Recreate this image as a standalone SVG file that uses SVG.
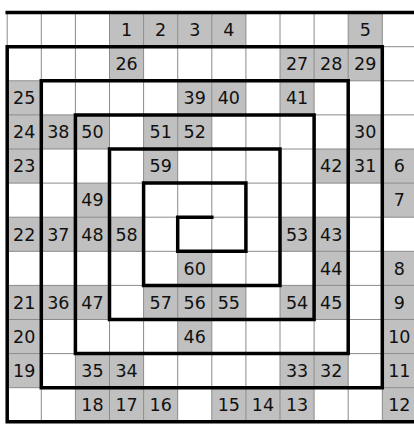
<svg xmlns="http://www.w3.org/2000/svg" width="414" height="425" viewBox="0 0 414 425">
<style>
.cell rect{fill:#c0c0c0;}
.cell text{font-family:"DejaVu Sans","Verdana",sans-serif;font-size:17.5px;fill:#111;text-anchor:middle;}
.grid{stroke:#8a8a8a;stroke-width:1;fill:none;}
.spiral{stroke:#000;stroke-width:3.5;fill:none;stroke-linejoin:miter;stroke-linecap:square;}
</style>
<rect x="0" y="0" width="414" height="425" fill="#fff"/>
<g id="cells" transform="translate(0 0.3)">
<g id="n1" class="cell"><rect x="109.5" y="12.3" width="34.1" height="34.1"/><text x="126.55" y="35.65">1</text></g>
<g id="n2" class="cell"><rect x="143.6" y="12.3" width="34.1" height="34.1"/><text x="160.65" y="35.65">2</text></g>
<g id="n3" class="cell"><rect x="177.7" y="12.3" width="34.1" height="34.1"/><text x="194.75" y="35.65">3</text></g>
<g id="n4" class="cell"><rect x="211.8" y="12.3" width="34.1" height="34.1"/><text x="228.85" y="35.65">4</text></g>
<g id="n5" class="cell"><rect x="348.2" y="12.3" width="34.1" height="34.1"/><text x="365.25" y="35.65">5</text></g>
<g id="n26" class="cell"><rect x="109.5" y="46.4" width="34.1" height="34.1"/><text x="126.55" y="69.75">26</text></g>
<g id="n27" class="cell"><rect x="280" y="46.4" width="34.1" height="34.1"/><text x="297.05" y="69.75">27</text></g>
<g id="n28" class="cell"><rect x="314.1" y="46.4" width="34.1" height="34.1"/><text x="331.15" y="69.75">28</text></g>
<g id="n29" class="cell"><rect x="348.2" y="46.4" width="34.1" height="34.1"/><text x="365.25" y="69.75">29</text></g>
<g id="n25" class="cell"><rect x="7.2" y="80.5" width="34.1" height="34.1"/><text x="24.25" y="103.85">25</text></g>
<g id="n39" class="cell"><rect x="177.7" y="80.5" width="34.1" height="34.1"/><text x="194.75" y="103.85">39</text></g>
<g id="n40" class="cell"><rect x="211.8" y="80.5" width="34.1" height="34.1"/><text x="228.85" y="103.85">40</text></g>
<g id="n41" class="cell"><rect x="280" y="80.5" width="34.1" height="34.1"/><text x="297.05" y="103.85">41</text></g>
<g id="n24" class="cell"><rect x="7.2" y="114.6" width="34.1" height="34.1"/><text x="24.25" y="137.95">24</text></g>
<g id="n38" class="cell"><rect x="41.3" y="114.6" width="34.1" height="34.1"/><text x="58.35" y="137.95">38</text></g>
<g id="n50" class="cell"><rect x="75.4" y="114.6" width="34.1" height="34.1"/><text x="92.45" y="137.95">50</text></g>
<g id="n51" class="cell"><rect x="143.6" y="114.6" width="34.1" height="34.1"/><text x="160.65" y="137.95">51</text></g>
<g id="n52" class="cell"><rect x="177.7" y="114.6" width="34.1" height="34.1"/><text x="194.75" y="137.95">52</text></g>
<g id="n30" class="cell"><rect x="348.2" y="114.6" width="34.1" height="34.1"/><text x="365.25" y="137.95">30</text></g>
<g id="n23" class="cell"><rect x="7.2" y="148.7" width="34.1" height="34.1"/><text x="24.25" y="172.05">23</text></g>
<g id="n59" class="cell"><rect x="143.6" y="148.7" width="34.1" height="34.1"/><text x="160.65" y="172.05">59</text></g>
<g id="n42" class="cell"><rect x="314.1" y="148.7" width="34.1" height="34.1"/><text x="331.15" y="172.05">42</text></g>
<g id="n31" class="cell"><rect x="348.2" y="148.7" width="34.1" height="34.1"/><text x="365.25" y="172.05">31</text></g>
<g id="n6" class="cell"><rect x="382.3" y="148.7" width="34.1" height="34.1"/><text x="399.35" y="172.05">6</text></g>
<g id="n49" class="cell"><rect x="75.4" y="182.8" width="34.1" height="34.1"/><text x="92.45" y="206.15">49</text></g>
<g id="n7" class="cell"><rect x="382.3" y="182.8" width="34.1" height="34.1"/><text x="399.35" y="206.15">7</text></g>
<g id="n22" class="cell"><rect x="7.2" y="216.9" width="34.1" height="34.1"/><text x="24.25" y="240.25">22</text></g>
<g id="n37" class="cell"><rect x="41.3" y="216.9" width="34.1" height="34.1"/><text x="58.35" y="240.25">37</text></g>
<g id="n48" class="cell"><rect x="75.4" y="216.9" width="34.1" height="34.1"/><text x="92.45" y="240.25">48</text></g>
<g id="n58" class="cell"><rect x="109.5" y="216.9" width="34.1" height="34.1"/><text x="126.55" y="240.25">58</text></g>
<g id="n53" class="cell"><rect x="280" y="216.9" width="34.1" height="34.1"/><text x="297.05" y="240.25">53</text></g>
<g id="n43" class="cell"><rect x="314.1" y="216.9" width="34.1" height="34.1"/><text x="331.15" y="240.25">43</text></g>
<g id="n60" class="cell"><rect x="177.7" y="251" width="34.1" height="34.1"/><text x="194.75" y="274.35">60</text></g>
<g id="n44" class="cell"><rect x="314.1" y="251" width="34.1" height="34.1"/><text x="331.15" y="274.35">44</text></g>
<g id="n8" class="cell"><rect x="382.3" y="251" width="34.1" height="34.1"/><text x="399.35" y="274.35">8</text></g>
<g id="n21" class="cell"><rect x="7.2" y="285.1" width="34.1" height="34.1"/><text x="24.25" y="308.45">21</text></g>
<g id="n36" class="cell"><rect x="41.3" y="285.1" width="34.1" height="34.1"/><text x="58.35" y="308.45">36</text></g>
<g id="n47" class="cell"><rect x="75.4" y="285.1" width="34.1" height="34.1"/><text x="92.45" y="308.45">47</text></g>
<g id="n57" class="cell"><rect x="143.6" y="285.1" width="34.1" height="34.1"/><text x="160.65" y="308.45">57</text></g>
<g id="n56" class="cell"><rect x="177.7" y="285.1" width="34.1" height="34.1"/><text x="194.75" y="308.45">56</text></g>
<g id="n55" class="cell"><rect x="211.8" y="285.1" width="34.1" height="34.1"/><text x="228.85" y="308.45">55</text></g>
<g id="n54" class="cell"><rect x="280" y="285.1" width="34.1" height="34.1"/><text x="297.05" y="308.45">54</text></g>
<g id="n45" class="cell"><rect x="314.1" y="285.1" width="34.1" height="34.1"/><text x="331.15" y="308.45">45</text></g>
<g id="n9" class="cell"><rect x="382.3" y="285.1" width="34.1" height="34.1"/><text x="399.35" y="308.45">9</text></g>
<g id="n20" class="cell"><rect x="7.2" y="319.2" width="34.1" height="34.1"/><text x="24.25" y="342.55">20</text></g>
<g id="n46" class="cell"><rect x="177.7" y="319.2" width="34.1" height="34.1"/><text x="194.75" y="342.55">46</text></g>
<g id="n10" class="cell"><rect x="382.3" y="319.2" width="34.1" height="34.1"/><text x="399.35" y="342.55">10</text></g>
<g id="n19" class="cell"><rect x="7.2" y="353.3" width="34.1" height="34.1"/><text x="24.25" y="376.65">19</text></g>
<g id="n35" class="cell"><rect x="75.4" y="353.3" width="34.1" height="34.1"/><text x="92.45" y="376.65">35</text></g>
<g id="n34" class="cell"><rect x="109.5" y="353.3" width="34.1" height="34.1"/><text x="126.55" y="376.65">34</text></g>
<g id="n33" class="cell"><rect x="280" y="353.3" width="34.1" height="34.1"/><text x="297.05" y="376.65">33</text></g>
<g id="n32" class="cell"><rect x="314.1" y="353.3" width="34.1" height="34.1"/><text x="331.15" y="376.65">32</text></g>
<g id="n11" class="cell"><rect x="382.3" y="353.3" width="34.1" height="34.1"/><text x="399.35" y="376.65">11</text></g>
<g id="n18" class="cell"><rect x="75.4" y="387.4" width="34.1" height="34.1"/><text x="92.45" y="410.75">18</text></g>
<g id="n17" class="cell"><rect x="109.5" y="387.4" width="34.1" height="34.1"/><text x="126.55" y="410.75">17</text></g>
<g id="n16" class="cell"><rect x="143.6" y="387.4" width="34.1" height="34.1"/><text x="160.65" y="410.75">16</text></g>
<g id="n15" class="cell"><rect x="211.8" y="387.4" width="34.1" height="34.1"/><text x="228.85" y="410.75">15</text></g>
<g id="n14" class="cell"><rect x="245.9" y="387.4" width="34.1" height="34.1"/><text x="262.95" y="410.75">14</text></g>
<g id="n13" class="cell"><rect x="280" y="387.4" width="34.1" height="34.1"/><text x="297.05" y="410.75">13</text></g>
<g id="n12" class="cell"><rect x="382.3" y="387.4" width="34.1" height="34.1"/><text x="399.35" y="410.75">12</text></g>
</g>
<g id="grid">
<path class="grid" d="M7.2 12.6V421.8M41.3 12.6V421.8M75.4 12.6V421.8M109.5 12.6V421.8M143.6 12.6V421.8M177.7 12.6V421.8M211.8 12.6V421.8M245.9 12.6V421.8M280 12.6V421.8M314.1 12.6V421.8M348.2 12.6V421.8M382.3 12.6V421.8M416.4 12.6V421.8M7.2 12.6H416.4M7.2 46.7H416.4M7.2 80.8H416.4M7.2 114.9H416.4M7.2 149H416.4M7.2 183.1H416.4M7.2 217.2H416.4M7.2 251.3H416.4M7.2 285.4H416.4M7.2 319.5H416.4M7.2 353.6H416.4M7.2 387.7H416.4M7.2 421.8H416.4"/>
</g>
<g id="connectors">
<polyline class="spiral" points="7.2,12.6 416.4,12.6 416.4,421.8 7.2,421.8 7.2,46.7 382.3,46.7 382.3,387.7 41.3,387.7 41.3,80.8 348.2,80.8 348.2,353.6 75.4,353.6 75.4,114.9 314.1,114.9 314.1,319.5 109.5,319.5 109.5,149 280,149 280,285.4 143.6,285.4 143.6,183.1 245.9,183.1 245.9,251.3 177.7,251.3 177.7,217.2 211.8,217.2"/>
</g>
</svg>
